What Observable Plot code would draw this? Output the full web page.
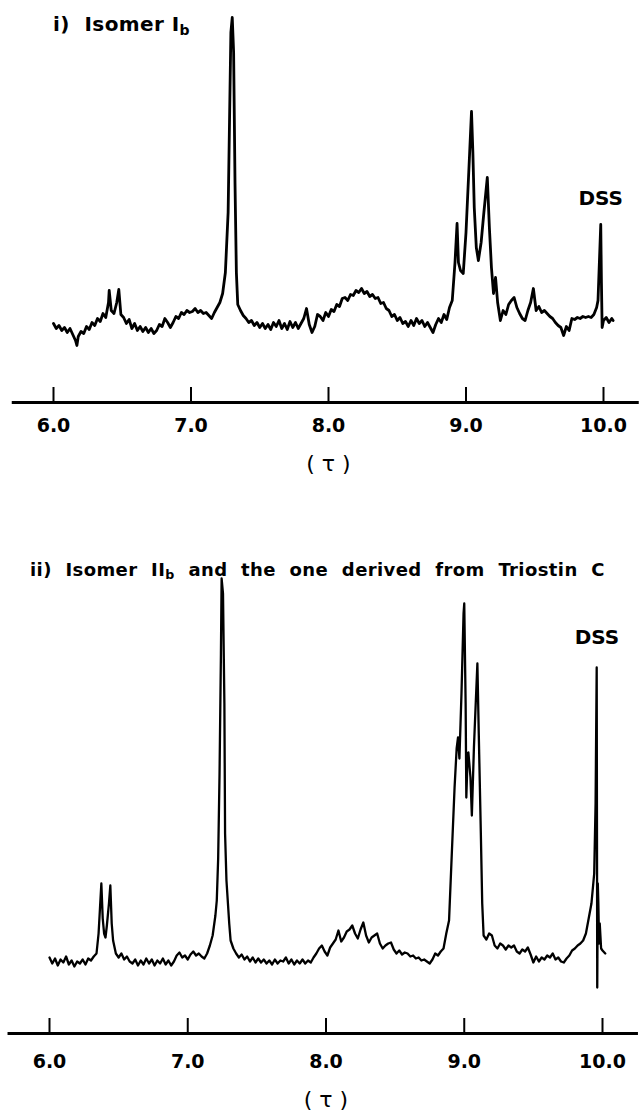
<!DOCTYPE html>
<html><head><meta charset="utf-8">
<script src="https://cdn.jsdelivr.net/npm/d3@7"></script>
<script src="https://cdn.jsdelivr.net/npm/@observablehq/plot@0.6"></script>
<style>
body{margin:0;background:#fff;}
#wrap{position:relative;width:639px;height:1112px;overflow:hidden;font-family:"DejaVu Sans",sans-serif;color:#000;}
.panel{position:absolute;left:0;z-index:1;}
.title{position:absolute;font-weight:bold;white-space:nowrap;z-index:2;}
.title sub{font-size:70%;vertical-align:-0.25em;line-height:0;}
</style></head><body>
<div id="wrap">
  <div class="panel" id="p1" style="top:0px"></div>
  <div class="panel" id="p2" style="top:500px"></div>
  <div class="title" id="t1" style="left:53px;top:14px;font-size:20px;line-height:20px;letter-spacing:0.4px">i)&nbsp; Isomer I<sub>b</sub></div>
  <div class="title" id="t2" style="left:30px;top:561px;font-size:18px;line-height:18px;letter-spacing:0.4px;word-spacing:7px">ii) Isomer II<sub>b</sub> and the one derived from Triostin C</div>
</div>
<script>
// ---- axis ----
const tickValues = [6, 7, 8, 9, 10];
const axisExtent = [5.7, 10.26];
const axisLabel = "( τ )";

// ---- panel i) Isomer Ib : chemical shift (τ) and signal height ----
const topShift = [
6.00,6.02,6.04,6.06,6.08,6.10,6.12,6.14,6.16,6.17,6.18,6.20,6.22,6.24,6.26,6.28,6.30,6.32,6.34,6.36,
6.38,6.40,6.405,6.42,6.44,6.46,6.475,6.49,6.51,6.53,6.55,6.57,6.59,6.61,6.63,6.65,6.67,6.69,6.71,6.73,
6.75,6.77,6.79,6.81,6.83,6.85,6.87,6.89,6.91,6.93,6.95,6.97,6.99,7.01,7.03,7.05,7.07,7.09,7.11,7.13,
7.15,7.17,7.19,7.21,7.23,7.25,7.27,7.28,7.29,7.30,7.31,7.32,7.33,7.34,7.36,7.38,7.40,7.42,7.44,7.46,
7.48,7.50,7.52,7.54,7.56,7.58,7.60,7.62,7.64,7.66,7.68,7.70,7.72,7.74,7.76,7.78,7.80,7.82,7.84,7.86,
7.88,7.90,7.92,7.94,7.96,7.98,8.00,8.02,8.04,8.06,8.08,8.10,8.12,8.14,8.16,8.18,8.20,8.22,8.24,8.26,
8.28,8.30,8.32,8.34,8.36,8.38,8.40,8.42,8.44,8.46,8.48,8.50,8.52,8.54,8.56,8.58,8.60,8.62,8.64,8.66,
8.68,8.70,8.72,8.74,8.76,8.78,8.80,8.82,8.84,8.86,8.88,8.90,8.92,8.935,8.945,8.96,8.98,9.00,9.02,9.04,
9.05,9.06,9.075,9.09,9.11,9.13,9.155,9.17,9.185,9.20,9.215,9.23,9.25,9.27,9.29,9.31,9.33,9.35,9.37,9.39,
9.41,9.43,9.45,9.47,9.49,9.51,9.53,9.55,9.57,9.59,9.61,9.63,9.65,9.67,9.69,9.71,9.73,9.75,9.77,9.79,
9.81,9.83,9.85,9.87,9.89,9.91,9.93,9.95,9.96,9.97,9.98,9.985,9.99,10.00,10.02,10.04,10.06,10.07
];
const topSignal = [
79,74,77,72,75,70,74,68,62,57,66,71,69,76,73,80,77,84,81,89,
85,100,112,92,89,100,113,88,85,79,83,74,79,72,76,71,75,70,74,69,
72,78,76,84,80,75,80,86,84,90,88,92,90,91,94,90,92,89,90,87,
84,90,95,100,109,130,190,280,370,385,350,220,130,98,92,87,84,80,82,77,
80,75,79,74,78,73,80,76,82,74,79,73,81,75,80,74,79,84,94,78,
70,76,88,86,82,90,86,93,91,98,96,104,105,102,108,107,112,110,114,109,
111,106,108,104,105,99,100,94,92,86,88,82,85,79,81,76,82,77,84,79,
82,76,80,75,70,78,84,80,88,83,95,102,140,179,140,132,129,170,230,291,
250,195,155,142,160,190,225,175,135,109,125,100,82,92,88,98,102,105,95,89,
84,82,92,100,114,92,96,90,92,89,86,84,80,77,75,67,76,72,84,83,
85,84,86,85,86,85,88,95,102,140,178,120,75,82,85,80,84,82
];

// ---- panel ii) Isomer IIb / Triostin C derived ----
const bottomShift = [
6.00,6.02,6.04,6.06,6.08,6.10,6.12,6.14,6.16,6.18,6.20,6.22,6.24,6.26,6.28,6.30,6.32,6.34,6.355,6.365,
6.375,6.385,6.395,6.405,6.415,6.43,6.44,6.45,6.46,6.48,6.50,6.52,6.54,6.56,6.58,6.60,6.62,6.64,6.66,6.68,
6.70,6.72,6.74,6.76,6.78,6.80,6.82,6.84,6.86,6.88,6.90,6.92,6.94,6.96,6.98,7.00,7.02,7.04,7.06,7.08,
7.10,7.12,7.14,7.16,7.18,7.20,7.21,7.22,7.23,7.24,7.245,7.255,7.265,7.27,7.28,7.30,7.31,7.33,7.35,7.37,
7.39,7.41,7.43,7.45,7.47,7.49,7.51,7.53,7.55,7.57,7.59,7.61,7.63,7.65,7.67,7.69,7.71,7.73,7.75,7.77,
7.79,7.81,7.83,7.85,7.87,7.89,7.91,7.93,7.95,7.97,7.99,8.01,8.03,8.05,8.07,8.09,8.11,8.13,8.15,8.17,
8.19,8.21,8.23,8.25,8.27,8.29,8.31,8.33,8.35,8.37,8.39,8.41,8.43,8.45,8.47,8.49,8.51,8.53,8.55,8.57,
8.59,8.61,8.63,8.65,8.67,8.69,8.71,8.73,8.75,8.77,8.79,8.81,8.83,8.85,8.87,8.89,8.91,8.93,8.945,8.955,
8.965,8.98,8.995,9.00,9.01,9.015,9.025,9.03,9.045,9.055,9.07,9.08,9.095,9.105,9.12,9.13,9.14,9.16,9.18,9.20,
9.22,9.24,9.26,9.28,9.30,9.32,9.34,9.36,9.38,9.40,9.42,9.44,9.46,9.48,9.50,9.52,9.54,9.56,9.58,9.60,
9.62,9.64,9.66,9.68,9.70,9.72,9.74,9.76,9.78,9.80,9.82,9.84,9.86,9.88,9.90,9.92,9.94,9.95,9.958,9.962,
9.966,9.97,9.975,9.98,9.99,10.00,10.02
];
const bottomSignal = [
76,70,75,68,74,71,77,69,73,67,72,70,74,69,75,73,77,80,100,125,
150,115,100,96,108,130,148,110,93,80,76,80,74,77,72,70,74,68,73,69,
75,70,74,68,73,70,75,69,73,68,72,78,81,76,78,74,79,82,78,80,
77,75,80,88,98,118,133,175,260,380,455,440,330,200,153,110,93,85,80,76,
79,74,77,72,76,71,75,71,74,70,73,69,74,70,73,72,76,70,74,69,
73,70,74,70,73,71,76,80,85,88,82,78,86,90,94,103,92,96,102,104,
108,100,95,104,111,98,91,96,98,100,90,85,88,90,91,84,80,83,79,81,
80,77,78,75,76,73,74,72,70,74,80,78,82,85,100,113,180,246,285,296,
275,340,420,430,330,236,280,281,256,218,286,320,370,300,200,130,98,94,100,98,
88,85,90,88,84,88,86,88,82,80,84,82,86,79,71,77,72,76,74,78,
76,80,74,76,72,71,75,78,83,85,88,90,93,100,115,130,160,230,366,46,
150,130,90,110,85,83,80
];

// ---- labels placed in data space ----
const dssTop = [{x: 9.98, y: 204, text: "DSS"}];
const dssBottom = [{x: 9.96, y: 396, text: "DSS"}];

const topData = topShift.map((s, i) => ({shift: s, signal: topSignal[i]}));
const bottomData = bottomShift.map((s, i) => ({shift: s, signal: bottomSignal[i]}));

const fontFamily = "DejaVu Sans, sans-serif";

function panel({data, dss, height, marginTop, marginBottom, marginLeft, marginRight, yMax, lineWidth, labelDy, tickPadding}) {
  return Plot.plot({
    width: 639,
    height,
    marginTop, marginBottom, marginLeft, marginRight,
    style: {background: "transparent", fontFamily, color: "black", overflow: "visible"},
    x: {domain: [6, 10]},
    y: {domain: [0, yMax], axis: null},
    marks: [
      Plot.ruleY([0], {x1: axisExtent[0], x2: axisExtent[1], stroke: "black", strokeWidth: 3}),
      Plot.axisX({
        ticks: tickValues,
        tickSize: -15,
        tickPadding,
        strokeWidth: 2,
        tickFormat: d => d.toFixed(1),
        fontSize: 19,
        fontWeight: "bold",
        fill: "black",
        label: null
      }),
      Plot.line(data, {x: "shift", y: "signal", stroke: "black", strokeWidth: lineWidth, strokeLinejoin: "round", strokeLinecap: "round"}),
      Plot.text(dss, {x: "x", y: "y", text: "text", fontSize: 20, fontWeight: "bold", fill: "black", textAnchor: "middle"}),
      Plot.text([axisLabel], {text: d => d, frameAnchor: "bottom", dy: labelDy, fontSize: 22, fill: "black", lineAnchor: "middle"})
    ]
  });
}

document.getElementById("p1").appendChild(panel({
  data: topData, dss: dssTop, height: 500, marginTop: 17, marginBottom: 98,
  marginLeft: 53, marginRight: 36, yMax: 385, lineWidth: 2.8, labelDy: 61, tickPadding: 31
}));
document.getElementById("p2").appendChild(panel({
  data: bottomData, dss: dssBottom, height: 612, marginTop: 78, marginBottom: 79,
  marginLeft: 49, marginRight: 37, yMax: 455, lineWidth: 2.3, labelDy: 66, tickPadding: 36
}));
</script>
</body></html>
